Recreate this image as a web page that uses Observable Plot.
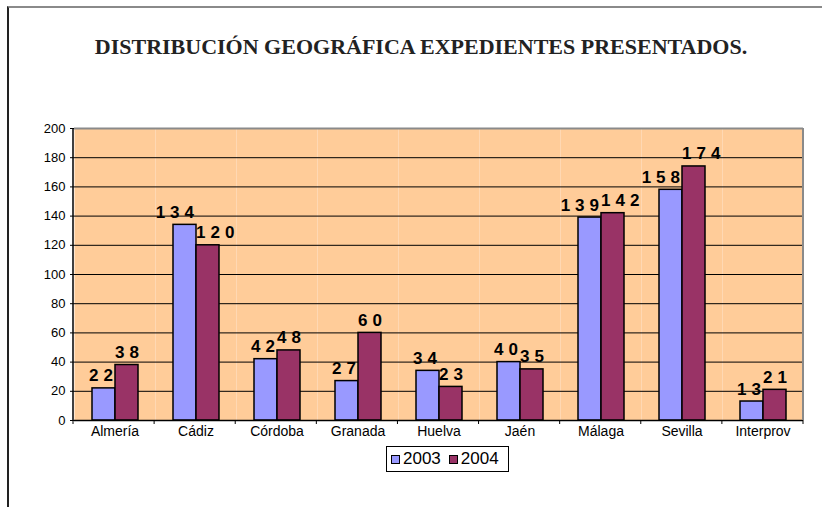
<!DOCTYPE html>
<html><head><meta charset="utf-8">
<script src="https://cdn.jsdelivr.net/npm/d3@7"></script>
<script src="https://cdn.jsdelivr.net/npm/@observablehq/plot@0.6"></script>
<style>
body{margin:0;background:#fff;}
#page{position:relative;width:822px;height:507px;overflow:hidden;font-family:"Liberation Sans",Arial,sans-serif;background:#fff;}
#border{position:absolute;left:7px;top:6px;width:900px;height:600px;border-top:2px solid #8a8a8a;border-left:2px solid #222;}
#title{position:absolute;left:0;width:842px;top:34px;text-align:center;font-family:"Liberation Serif","Times New Roman",serif;font-weight:bold;font-size:22px;color:#222;white-space:nowrap;}
#chart{position:absolute;left:0;top:0;}
#legend{position:absolute;left:386px;top:446px;width:121px;height:24px;border:1px solid #000;background:#fff;display:flex;align-items:center;font-size:17px;color:#000;}
#legend .item{display:flex;align-items:center;margin-left:4px;margin-right:4px;}
#legend .sw{width:7px;height:7px;border:1px solid #000;margin-right:3px;}
g[aria-label="text"] text{letter-spacing:5px;}
</style>
</head><body>
<div id="page">
  <div id="border"></div>
  <div id="title">DISTRIBUCIÓN GEOGRÁFICA EXPEDIENTES PRESENTADOS.</div>
  <div id="chart"></div>
  <div id="legend"></div>
</div>
<script>
const categories = ["Almería","Cádiz","Córdoba","Granada","Huelva","Jaén","Málaga","Sevilla","Interprov"];
const years = ["2003","2004"];
const values2003 = [22,134,42,27,34,40,139,158,13];
const values2004 = [38,120,48,60,23,35,142,174,21];
const yTicks = [0,20,40,60,80,100,120,140,160,180,200];
const colors = ["#9999FF","#993366"];

const data = categories.flatMap((c,i) => [
  {cat:c, year:years[0], value:values2003[i]},
  {cat:c, year:years[1], value:values2004[i]}
]);

const labelStyle = {fx: "cat", x: "year", y: "value", text: d => String(d.value), lineAnchor: "bottom", dy: -7, fontSize: 17, fontWeight: "bold", fill: "#000"};

const plot = Plot.plot({
  width: 822, height: 507,
  marginLeft: 73, marginRight: 19, marginTop: 128, marginBottom: 87,
  style: {fontFamily: '"Liberation Sans", Arial, sans-serif', fontSize: "13px", color: "#000", background: "transparent", overflow: "visible"},
  fx: {domain: categories, padding: 0, label: null},
  x: {domain: years, paddingInner: 0, paddingOuter: 0.76, axis: null},
  y: {domain: [0,200], axis: null},
  color: {domain: years, range: colors},
  marks: [
    Plot.frame({fill: "#FFCC99", stroke: "none"}),
    Plot.gridY(yTicks, {stroke: "#000", strokeOpacity: 1, strokeWidth: 1}),
    Plot.ruleY([200], {stroke: "#8a8a8a", strokeWidth: 2}),
    Plot.barY(data, {fx: "cat", x: "year", y: "value", fill: "year", stroke: "#000", strokeWidth: 1.5}),
    Plot.text(data.filter(d => d.year === years[0]), {...labelStyle, textAnchor: "end", dx: 14}),
    Plot.text(data.filter(d => d.year === years[1]), {...labelStyle, textAnchor: "start", dx: -12}),
    Plot.ruleY([0], {stroke: "#000", strokeWidth: 1.5}),
    Plot.axisY({ticks: yTicks, tickSize: 4, tickPadding: 5, fontSize: 13, label: null}),
    Plot.axisFx({anchor: "bottom", tickSize: 0, tickPadding: 6, fontSize: 14, label: null})
  ]
});
document.getElementById("chart").appendChild(plot);

// axis line, boundary ticks and right border from the scales
const svg = d3.select(plot);
const fx = plot.scale("fx"), ys = plot.scale("y");
const [fx0, fx1] = fx.range;
const step = (fx1 - fx0) / fx.domain.length;
const yb = ys.range[0], yt = ys.range[1];
const g = svg.append("g");
g.append("line").attr("x1", fx1).attr("x2", fx1).attr("y1", yt).attr("y2", yb).attr("stroke", "#8a8a8a").attr("stroke-width", 2);
g.append("line").attr("x1", fx0).attr("x2", fx0).attr("y1", yt).attr("y2", yb + 0.5).attr("stroke", "#000").attr("stroke-width", 1.5);
d3.range(fx.domain.length + 1).forEach(i => {
  const x = fx0 + i * step;
  g.append("line").attr("x1", x).attr("x2", x).attr("y1", yb).attr("y2", yb + 4).attr("stroke", "#000").attr("stroke-width", 1);
});

// legend
const legend = d3.select("#legend");
years.forEach((yv, i) => {
  const it = legend.append("div").attr("class", "item");
  it.append("div").attr("class", "sw").style("background", colors[i]);
  it.append("span").text(yv);
});
</script>
</body></html>
